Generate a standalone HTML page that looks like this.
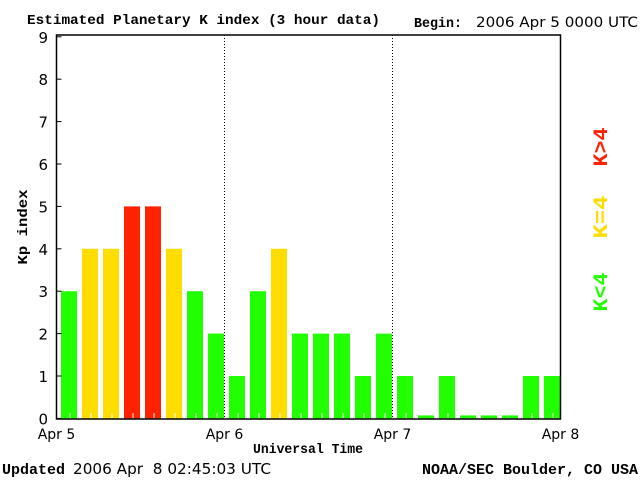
<!DOCTYPE html>
<html><head><meta charset="utf-8"><style>
body{margin:0;background:#fff;}
svg{display:block;}
.s{font-family:"DejaVu Sans","Liberation Sans",sans-serif;font-size:14px;}
.b{font-family:"Liberation Mono",monospace;font-weight:bold;font-size:14px;}
</style></head><body>
<svg id="chart" width="640" height="480" xmlns="http://www.w3.org/2000/svg">
<text x="27" y="24" class="b" textLength="353" lengthAdjust="spacingAndGlyphs">Estimated Planetary K index (3 hour data)</text>
<text x="414" y="27" class="b" textLength="48" lengthAdjust="spacingAndGlyphs">Begin:</text>
<text x="476" y="27" class="s" textLength="162" lengthAdjust="spacingAndGlyphs">2006 Apr 5 0000 UTC</text>
<text x="27" y="227" class="b" transform="rotate(-90 27 227)" text-anchor="middle" textLength="75" lengthAdjust="spacingAndGlyphs">Kp index</text>
<text x="308" y="453" class="b" text-anchor="middle" textLength="110" lengthAdjust="spacingAndGlyphs">Universal Time</text>
<text x="2" y="474" class="b" style="font-size:15px" textLength="63" lengthAdjust="spacingAndGlyphs">Updated</text>
<text x="73" y="474" class="s" style="font-size:15px" textLength="198" lengthAdjust="spacingAndGlyphs" xml:space="preserve">2006 Apr  8 02:45:03 UTC</text>
<text x="422" y="474" class="b" style="font-size:15px" textLength="216" lengthAdjust="spacingAndGlyphs">NOAA/SEC Boulder, CO USA</text>
<g class="b" style="font-size:20px">
<text x="607" y="147" fill="#ff2200" text-anchor="middle" textLength="39" lengthAdjust="spacingAndGlyphs" transform="rotate(-90 607 147)">K&gt;4</text>
<text x="607" y="217" fill="#ffdd00" text-anchor="middle" textLength="43" lengthAdjust="spacingAndGlyphs" transform="rotate(-90 607 217)">K=4</text>
<text x="607" y="292" fill="#22ff00" text-anchor="middle" textLength="39" lengthAdjust="spacingAndGlyphs" transform="rotate(-90 607 292)">K&lt;4</text>
</g>
<g id="plot"></g>
</svg>
<script>
const kpValues=[3,4,4,5,5,4,3,2, 1,3,4,2,2,2,1,2, 1,0,1,0,0,0,1,1];
const yTicks=[0,1,2,3,4,5,6,7,8,9];
const dayLabels=["Apr 5","Apr 6","Apr 7","Apr 8"];
const NS="http://www.w3.org/2000/svg";
const L=56.5,R=560.5,T=35,B=419;
const y=v=>418.4-v*42.4;
const slot=(R-L)/kpValues.length;
const x=i=>L+i*slot;
const g=document.getElementById('plot');
function mk(t,a){const e=document.createElementNS(NS,t);for(const k in a)e.setAttribute(k,a[k]);g.appendChild(e);return e;}
kpValues.forEach((v,i)=>{
  const h=Math.max(v*42.4,3);
  const r=mk('rect',{x:x(i)+4.5,y:418.4-h,width:16,height:h,fill:v>4?'#ff2200':(v==4?'#ffdd00':'#22ff00')});
  
  
  if(v>0){const t=mk('line',{x1:x(i)+13.5,x2:x(i)+13.5,y1:413,y2:418,stroke:'#fff'});
  
  }
});
yTicks.forEach(v=>{
  const t=mk('text',{x:48,y:y(v)+6,'text-anchor':'end',class:'s',style:'font-size:15px'});
  t.textContent=v;
  
  
  const l=mk('line',{x1:L,x2:L+5,y1:y(v),y2:y(v),stroke:'#000'});
  
  
});
dayLabels.forEach((d,i)=>{
  const xx=L+i*slot*8;
  const t=mk('text',{x:xx,y:439,'text-anchor':'middle',class:'s'});
  t.textContent=d;
  
  
  if(i>0&&i<3){const l=mk('line',{x1:xx,x2:xx,y1:T,y2:B,stroke:'#000','stroke-dasharray':'1,2'});
  
  }
});
const f=mk('rect',{x:L,y:T,width:R-L,height:B-T,fill:'none',stroke:'#000','stroke-width':1.5});


</script>
</body></html>
